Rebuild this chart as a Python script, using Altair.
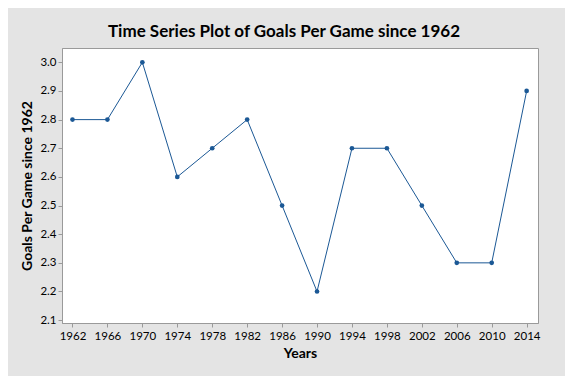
import altair as alt
import pandas as pd

years = [1962, 1966, 1970, 1974, 1978, 1982, 1986, 1990, 1994, 1998, 2002, 2006, 2010, 2014]
goals_per_game = [2.8, 2.8, 3.0, 2.6, 2.7, 2.8, 2.5, 2.2, 2.7, 2.7, 2.5, 2.3, 2.3, 2.9]
y_ticks = [2.1, 2.2, 2.3, 2.4, 2.5, 2.6, 2.7, 2.8, 2.9, 3.0]

df = pd.DataFrame({"Years": years, "GPG": goals_per_game})

LABEL_FONT = "Lato"
TITLE_FONT = "Lato"
BLUE = "#1b5895"

x = alt.X(
    "Years:Q",
    scale=alt.Scale(domain=[1960.8, 2015.3], nice=False, zero=False),
    axis=alt.Axis(
        values=years, format="d", title="Years", grid=False,
        tickSize=4, labelPadding=3, titleY=34, titleBaseline="alphabetic",
    ),
)
y = alt.Y(
    "GPG:Q",
    scale=alt.Scale(domain=[2.09, 3.05], nice=False, zero=False),
    axis=alt.Axis(
        values=y_ticks, format=".1f", title="Goals Per Game since 1962", grid=False,
        tickSize=4, labelPadding=2, titleX=-31, titleY=137.5, titleBaseline="alphabetic",
    ),
)

line = alt.Chart(df).mark_line(color=BLUE, strokeWidth=1).encode(x=x, y=y)
pts = alt.Chart(df).mark_point(filled=True, color=BLUE, size=22, opacity=1).encode(x=x, y=y)

chart = (
    (line + pts)
    .properties(
        width=476,
        height=275,
        autosize=alt.AutoSizeParams(type="none"),
        padding={"left": 54, "top": 40, "right": 27, "bottom": 53},
        background="#e4e4e4",
        title=alt.TitleParams(
            "Time Series Plot of Goals Per Game since 1962",
            font=TITLE_FONT, fontSize=17, fontWeight="bold", color="#000000",
            anchor="middle", frame="group", baseline="alphabetic", offset=15, dx=-16, dy=21,
        ),
    )
    .configure_view(fill="#ffffff", stroke="#9a9a9a", strokeWidth=1)
    .configure_axis(
        domainColor="#9a9a9a", tickColor="#9a9a9a",
        labelFont=LABEL_FONT, labelFontSize=11.5, labelColor="#000000",
        titleFont=TITLE_FONT, titleFontSize=14, titleFontWeight="bold", titleColor="#000000",
    )
)

chart.save("out.html", embed_options={"renderer": "svg", "actions": False})
